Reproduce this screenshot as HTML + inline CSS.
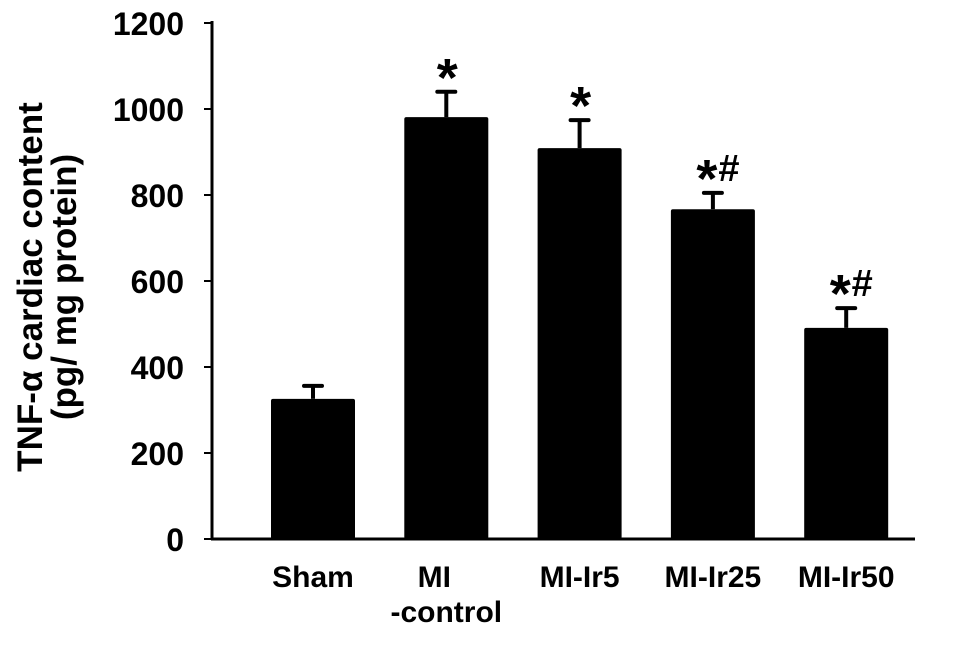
<!DOCTYPE html>
<html><head><meta charset="utf-8"><style>
body{margin:0;background:#fff}
svg text{font-family:"Liberation Sans",Arial,sans-serif;font-weight:bold;fill:#000}
</style></head><body>
<svg id="c" width="969" height="640" viewBox="0 0 969 640"></svg>
<script>
const categories=["Sham","MI\n-control","MI-Ir5","MI-Ir25","MI-Ir50"];
const means=[326,981,909,767,491];
const errors=[30,59,65,38,46];
const stars=[false,true,true,true,true];
const hashes=[false,false,false,true,true];
const ticks=[0,200,400,600,800,1000,1200];
const NS="http://www.w3.org/2000/svg";
const svg=document.getElementById('c');
function el(t,a,txt){const e=document.createElementNS(NS,t);for(const k in a)e.setAttribute(k,a[k]);if(txt!==undefined)e.textContent=txt;svg.appendChild(e);return e;}
const y0=539,k=0.43,ax=212;
const y=v=>y0-v*k;
const x=i=>313+i*133.3;
const bw=84;
let a=el('line',{x1:ax,y1:y(1200)-2,x2:ax,y2:y0+1,stroke:'#000','stroke-width':3});

let xa=el('line',{x1:ax-1,y1:y0,x2:915,y2:y0,stroke:'#000','stroke-width':3});

ticks.forEach(t=>{
 let l=el('line',{x1:ax-8,y1:y(t),x2:ax,y2:y(t),stroke:'#000','stroke-width':2});
 
 let tx=el('text',{x:184,y:y(t)+12,'text-anchor':'end','font-size':32},String(t));
 
});
means.forEach((m,i)=>{
 const cx=x(i);
 const top=y(m+errors[i]);
 let ev=el('line',{x1:cx,y1:y(m),x2:cx,y2:top,stroke:'#000','stroke-width':4});
 
 let ec=el('line',{x1:cx-9,y1:top,x2:cx+9,y2:top,stroke:'#000','stroke-width':4,'stroke-linecap':'round'});
 
 let b=el('rect',{x:cx-bw/2,y:y(m),width:bw,height:y0-y(m),fill:'#000',rx:2});
 
 if(stars[i]){
  const sx=hashes[i]?cx-6:cx+1;
  let s=el('text',{x:sx,y:top+4,'text-anchor':'middle','font-size':54},"*");
  
 }
 if(hashes[i]){
  let h=el('text',{x:cx+16,y:top-12,'text-anchor':'middle','font-size':38},"#");
  
 }
 const lines=categories[i].split("\n");
 lines.forEach((ln,j)=>{
  const lx=(lines.length>1&&j===0)?cx-12:cx;
  let t=el('text',{x:lx,y:j?622:587,'text-anchor':'middle','font-size':30},ln);
  
 });
});
let t1=el('text',{x:0,y:0,'text-anchor':'middle','font-size':35,transform:'translate(42,287) rotate(-90)'},"TNF-α cardiac content");

let t2=el('text',{x:0,y:0,'text-anchor':'middle','font-size':35,transform:'translate(76,287) rotate(-90)'},"(pg/ mg protein)");

</script>
</body></html>
